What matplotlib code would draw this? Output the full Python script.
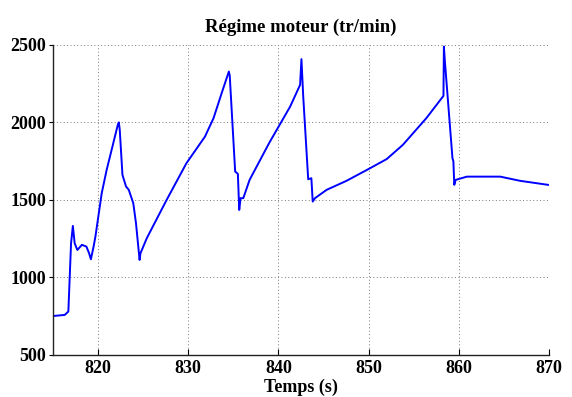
"""Régime moteur — engine speed trace, MATLAB-style figure."""

import matplotlib
matplotlib.use("Agg")
import matplotlib.pyplot as plt

# ---------- data -----------------------------------------------------------
TIME_S = [
    815.0, 816.3, 816.7, 817.0, 817.2, 817.4, 817.7, 818.2, 818.7, 819.0,
    819.2, 819.5, 819.7, 820.4, 820.95, 821.5, 822.2, 822.3, 822.4, 822.7,
    823.1, 823.4, 823.9, 824.2, 824.6, 824.7, 825.4, 827.6, 829.8, 831.85,
    832.8, 833.7, 834.5, 834.6, 835.2, 835.5, 835.65, 835.8, 836.1, 836.8,
    839.0, 841.3, 842.4, 842.55, 842.75, 843.3, 843.65, 843.8, 844.05, 845.35,
    847.55, 849.96, 852.0, 853.8, 855.1, 856.4, 858.3, 858.35, 858.45, 859.3,
    859.4, 859.5, 859.65, 860.9, 864.6, 866.8, 869.9, 870.0,
]
RPM = [
    751, 758, 780, 1220, 1332, 1220, 1177, 1210, 1199, 1156,
    1117, 1199, 1263, 1543, 1694, 1823, 1988, 2000, 1952, 1661,
    1586, 1565, 1479, 1350, 1113, 1156, 1253, 1500, 1737, 1908,
    2027, 2188, 2328, 2300, 1683, 1668, 1435, 1511, 1511, 1629,
    1870, 2102, 2242, 2408, 2166, 1633, 1640, 1489, 1511, 1565,
    1623, 1698, 1763, 1855, 1941, 2027, 2171, 2489, 2400, 1768,
    1750, 1597, 1629, 1650, 1650, 1623, 1597, 1597,
]
X_TICKS = [820, 830, 840, 850, 860, 870]
Y_TICKS = [500, 1000, 1500, 2000, 2500]

TITLE = "Régime moteur (tr/min)"
XLABEL = "Temps (s)"

# ---------- plot -----------------------------------------------------------
plt.rcParams["font.family"] = ["Liberation Serif", "DejaVu Serif"]
plt.rcParams["font.weight"] = "bold"

fig = plt.figure(figsize=(5.72, 3.97), dpi=100)
ax = fig.add_axes([0.0927, 0.106, 0.867, 0.781])

ax.plot(TIME_S, RPM, color="#0000ff", linewidth=1.4)

ax.set_xlim(815, 870)
ax.set_ylim(500, 2500)
ax.set_xticks(X_TICKS)
ax.set_yticks(Y_TICKS)
ax.grid(True, linestyle=(0, (1, 2.5)), color="#777777", linewidth=0.7)
ax.tick_params(labelsize=13)
ax.tick_params(axis="x", direction="in", length=4, pad=4)
ax.tick_params(axis="y", direction="out", length=3, pad=2)
for lab in ax.get_xticklabels() + ax.get_yticklabels():
    lab.set_fontweight("bold")

for side in ("top", "right"):
    ax.spines[side].set_visible(False)
for side in ("left", "bottom"):
    ax.spines[side].set_linewidth(1.0)
    ax.spines[side].set_color("#222222")

ax.set_title(TITLE, fontsize=13.5, fontweight="bold", pad=9)
ax.set_xlabel(XLABEL, fontsize=13, fontweight="bold", labelpad=1)

fig.savefig("out.png", dpi=100)
